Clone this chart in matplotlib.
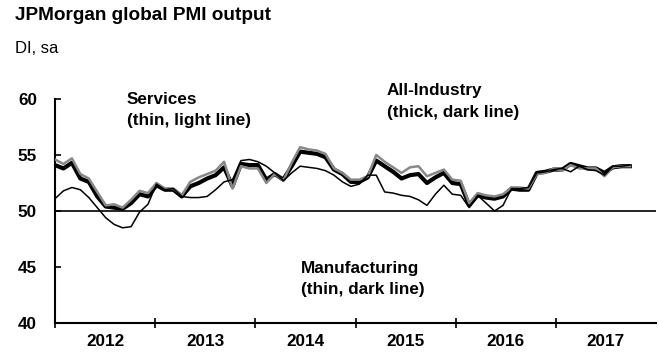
import numpy as np
import matplotlib
matplotlib.use('Agg')
import matplotlib.pyplot as plt

# ==========================================
# DATA (monthly, Jan 2012 - Sep 2017)
# ==========================================

years = ['2012', '2013', '2014', '2015', '2016', '2017']

all_industry = [
    54.1, 53.8, 54.3, 52.9, 52.6, 51.3, 50.4, 50.3, 50.2, 50.7, 51.5, 51.3,
    52.3, 51.9, 51.9, 51.3, 52.2, 52.5, 52.9, 53.2, 53.9, 52.2, 54.2, 54.1,
    54.1, 52.8, 53.3, 52.8, 54.0, 55.3, 55.2, 55.1, 54.8, 53.7, 53.3, 52.6,
    52.6, 53.0, 54.5, 54.0, 53.5, 52.9, 53.2, 53.3, 52.5, 53.0, 53.4, 52.5,
    52.4, 50.5, 51.4, 51.2, 51.1, 51.3, 52.0, 51.9, 51.9, 53.4, 53.5, 53.7,
    53.7, 54.2, 54.0, 53.8, 53.8, 53.4, 53.9, 54.0, 54.0
]

services = [
    54.6, 54.2, 54.7, 53.3, 52.9, 51.7, 50.5, 50.6, 50.3, 51.0, 51.8, 51.6,
    52.5, 52.0, 52.0, 51.4, 52.6, 53.0, 53.3, 53.6, 54.4, 52.0, 54.0, 53.8,
    53.8, 52.5, 53.3, 52.7, 54.3, 55.7, 55.5, 55.4, 55.1, 53.8, 53.4, 52.8,
    52.8, 53.1, 55.0, 54.4, 53.9, 53.4, 53.9, 54.0, 53.1, 53.4, 53.7, 52.8,
    52.7, 50.7, 51.6, 51.4, 51.3, 51.5, 52.1, 52.1, 52.0, 53.3, 53.4, 53.8,
    53.6, 54.1, 53.8, 53.8, 53.8, 53.1, 53.9, 54.0, 54.0
]

manufacturing = [
    51.1, 51.8, 52.1, 51.9, 51.2, 50.3, 49.4, 48.8, 48.5, 48.6, 49.9, 50.6,
    52.4, 51.9, 52.0, 51.3, 51.2, 51.2, 51.3, 51.9, 52.6, 52.8, 54.5, 54.6,
    54.4, 54.0, 53.4, 52.7, 53.4, 54.0, 53.9, 53.8, 53.6, 53.2, 52.6, 52.2,
    52.4, 53.2, 53.2, 51.7, 51.6, 51.4, 51.3, 51.0, 50.5, 51.5, 52.3, 51.5,
    51.4, 50.3, 51.4, 50.7, 50.0, 50.5, 52.0, 52.0, 52.1, 53.4, 53.5, 53.7,
    53.8, 53.5, 54.0, 53.7, 53.6, 53.2, 54.0, 54.0, 54.1
]

# ==========================================
# FIGURE
# ==========================================

plt.rcParams['font.family'] = ['Liberation Sans', 'DejaVu Sans']

W, H = 659, 355

fig = plt.figure(figsize=(W / 100, H / 100), dpi=100)

ax = fig.add_axes([55 / W, 32 / H, 601 / W, 224 / H])

x = np.arange(len(all_industry))

ax.plot(x, all_industry, color='black', linewidth=3.0, zorder=2)
ax.plot(x, services, color='#888888', linewidth=1.8, zorder=3)
ax.plot(x, manufacturing, color='black', linewidth=1.1, zorder=4)

ax.axhline(50, color='black', linewidth=1.2, zorder=1)

# ==========================================
# AXES
# ==========================================

x_end = 71.1

ax.set_xlim(0, x_end)
ax.set_ylim(40, 60)

for side in ['top', 'right']:
    ax.spines[side].set_visible(False)

for side in ['left', 'bottom']:
    ax.spines[side].set_linewidth(1.5)

ax.set_yticks([40, 45, 50, 55, 60])

ax.tick_params(
    axis='y',
    direction='in',
    length=4.5,
    width=1.2,
    pad=13,
    labelsize=12.3
)

bounds = np.linspace(0, x_end, len(years) + 1)

ax.set_xticks(bounds[:-1])
ax.set_xticklabels([])
ax.set_xticks((bounds[:-1] + bounds[1:]) / 2, minor=True)
ax.set_xticklabels(years, minor=True)

ax.tick_params(axis='x', which='major', direction='inout', length=7, width=1.2)
ax.tick_params(axis='x', which='minor', length=0, pad=8, labelsize=12.3)

for lab in ax.get_yticklabels() + ax.get_xticklabels(minor=True):
    lab.set_fontweight('bold')

# ==========================================
# TITLE AND LABELS
# ==========================================

fig.text(15 / W, 1 - 19.5 / H, 'JPMorgan global PMI output',
         fontsize=13.7, fontweight='bold', va='baseline')

fig.text(15 / W, 1 - 53 / H, 'DI, sa', fontsize=12, va='baseline')

notes = [
    (127, 104, 'Services'),
    (127, 125, '(thin, light line)'),
    (387, 95, 'All-Industry'),
    (387, 117, '(thick, dark line)'),
    (301, 273, 'Manufacturing'),
    (301, 294, '(thin, dark line)'),
]

for nx, ny, txt in notes:
    fig.text(nx / W, 1 - ny / H, txt, fontsize=12.3,
             fontweight='bold', va='baseline')

# ==========================================
# SAVE
# ==========================================

fig.savefig('out.png', dpi=100)
